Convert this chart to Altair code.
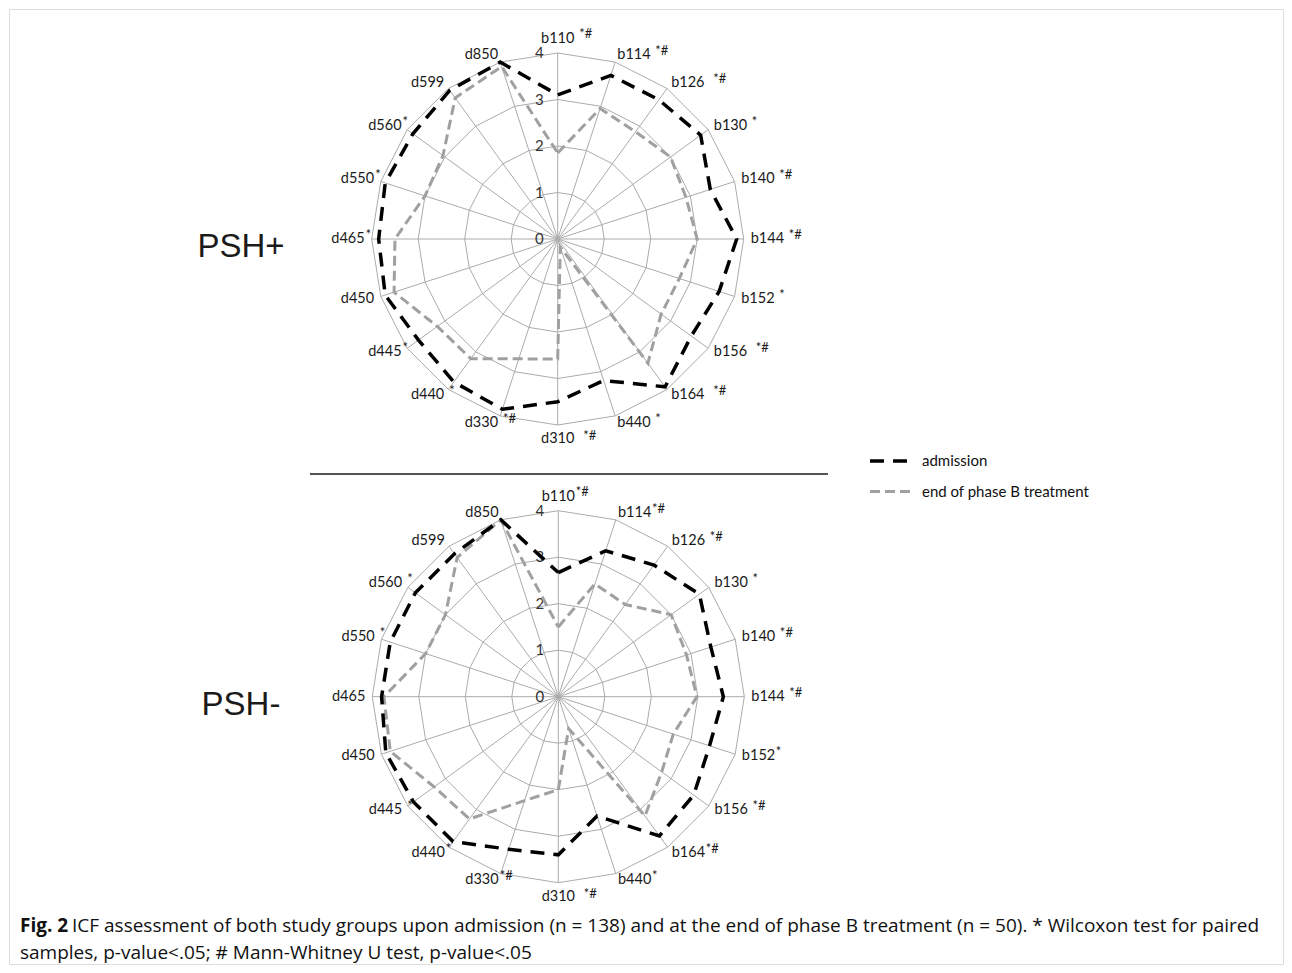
import altair as alt
import pandas as pd

# ---------------- data ----------------
categories = ["b110", "b114", "b126", "b130", "b140", "b144", "b152", "b156", "b164", "b440",
              "d310", "d330", "d440", "d445", "d450", "d465", "d550", "d560", "d599", "d850"]
panels = ["PSH+", "PSH-"]
series_names = ["admission", "end of phase B treatment"]

psh_plus_admission = [3.1, 3.7, 3.7, 3.8, 3.45, 3.85, 3.65, 3.55, 3.93, 3.2,
                      3.5, 3.85, 3.8, 3.7, 3.9, 3.85, 3.9, 3.85, 3.95, 4.0]
psh_plus_end = [1.85, 2.95, 2.85, 3.0, 2.9, 3.0, 2.75, 2.75, 3.3, 0.18,
                2.58, 2.71, 3.18, 3.2, 3.7, 3.5, 3.0, 3.05, 3.75, 3.9]
psh_minus_admission = [2.67, 3.3, 3.5, 3.75, 3.45, 3.55, 3.42, 3.6, 3.7, 2.7,
                       3.4, 3.45, 3.85, 3.85, 3.9, 3.8, 3.8, 3.8, 3.8, 4.0]
psh_minus_end = [1.5, 2.55, 2.45, 3.0, 2.9, 2.98, 2.6, 2.75, 3.17, 0.72,
                 2.0, 2.35, 3.25, 3.3, 3.8, 3.75, 3.0, 3.0, 3.7, 4.0]

sig_plus = [" *#", " *#", "  *#", " *", " *#", " *#", " *", "  *#", "  *#", " *",
            "  *#", " *#", " *", "*", "", "*", "*", "*", "", ""]
sig_minus = ["*#", "*#", " *#", " *", " *#", " *#", "*", " *#", "*#", "*",
             "  *#", "*#", "*", " *", "", "", " *", " *", "", ""]

ring_levels = [1, 2, 3, 4]
tick_labels = ["0", "1", "2", "3", "4"]

caption_bold = "Fig. 2"
caption_line1 = ("ICF assessment of both study groups upon admission (n = 138) and at the end of "
                 "phase B treatment (n = 50). * Wilcoxon test for paired")
caption_line2 = "samples, p-value<.05; # Mann-Whitney U test, p-value<.05"

# ---------------- layout ----------------
PAD = 1
W, H = 1276, 957
PW, PH = W - 2 * PAD, H - 2 * PAD
U = 46.5
N = len(categories)
LBL_FONT = "Lato"
CAP_FONT = "Open Sans"
CX = "(datum.panel === 'PSH+' ? 548.7 : 549.3)"
CY = "(datum.panel === 'PSH+' ? 230.0 : 687.7)"

# ---------------- tables ----------------
series_vals = {
    ("PSH+", "admission"): psh_plus_admission,
    ("PSH+", "end of phase B treatment"): psh_plus_end,
    ("PSH-", "admission"): psh_minus_admission,
    ("PSH-", "end of phase B treatment"): psh_minus_end,
}
rows = []
for panel in panels:
    for name in ["end of phase B treatment", "admission"]:
        vals = series_vals[(panel, name)]
        for k in range(N + 1):
            rows.append({"panel": panel, "series": name, "k": k, "idx": k % N, "value": vals[k % N]})
lines_df = pd.DataFrame(rows)

ring_df = pd.DataFrame([{"panel": p, "level": lv, "k": k, "idx": k % N, "value": lv}
                        for p in panels for lv in ring_levels for k in range(N + 1)])
spoke_df = pd.DataFrame([{"panel": p, "idx": i, "value": ring_levels[-1]}
                         for p in panels for i in range(N)])
tick_df = pd.DataFrame([{"panel": p, "level": int(t), "label": t}
                        for p in panels for t in tick_labels])
lab_rows = []
for p, sigs in [("PSH+", sig_plus), ("PSH-", sig_minus)]:
    for i, c in enumerate(categories):
        s = sigs[i]
        lab_rows.append({"panel": p, "idx": i, "cat": c, "sig": s.strip(),
                         "gap": 1 + 4 * (len(s) - len(s.lstrip()))})
lab_df = pd.DataFrame(lab_rows)


def X(f):
    return alt.X(f"{f}:Q", scale=alt.Scale(domain=[0, PW], nice=False, zero=False), axis=None)


def Y(f):
    return alt.Y(f"{f}:Q", scale=alt.Scale(domain=[0, PH], nice=False, zero=False, reverse=True),
                 axis=None)


def polar(ch):
    return (ch.transform_calculate(ang=f"2*PI*datum.idx/{N}", cx=CX, cy=CY)
              .transform_calculate(px=f"datum.cx + datum.value*{U}*sin(datum.ang)",
                                   py=f"datum.cy - datum.value*{U}*cos(datum.ang)"))


GRID = "#ababab"

rings = polar(alt.Chart(ring_df)).mark_line(stroke=GRID, strokeWidth=1).encode(
    x=X("px"), y=Y("py"), detail=["panel:N", "level:N"], order="k:Q")

spokes = polar(alt.Chart(spoke_df)).mark_rule(stroke=GRID, strokeWidth=1).encode(
    x=X("cx"), y=Y("cy"), x2=alt.X2("px:Q"), y2=alt.Y2("py:Q"))

ticks = (alt.Chart(tick_df)
         .transform_calculate(cx=CX, cy=CY)
         .transform_calculate(tx="datum.cx - 14", ty=f"datum.cy - datum.level*{U}")
         .mark_text(align="right", baseline="middle", fontSize=15, color="#333333", font=LBL_FONT)
         .encode(x=X("tx"), y=Y("ty"), text="label:N"))

leg = alt.Legend(title=None, orient="none", legendX=859, legendY=429, symbolType="stroke",
                 symbolSize=1764, symbolStrokeWidth=3.2, labelFont=LBL_FONT, labelFontSize=15,
                 labelColor="#111111", labelOffset=8, labelLimit=0, rowPadding=-10, padding=0)

series = polar(alt.Chart(lines_df)).mark_line(strokeCap="butt").encode(
    x=X("px"), y=Y("py"),
    color=alt.Color("series:N", scale=alt.Scale(domain=series_names, range=["#000000", "#a0a0a0"]),
                    legend=leg),
    strokeDash=alt.StrokeDash("series:N", scale=alt.Scale(domain=series_names, range=[[14, 9], [10, 5]]),
                              legend=leg),
    strokeWidth=alt.StrokeWidth("series:N", scale=alt.Scale(domain=series_names, range=[3.5, 3.0]),
                                legend=None),
    detail="panel:N", order="k:Q")

R_LBL = 4 * U + 7
BW = 33


def label_base(ch):
    return (ch.transform_calculate(ang=f"2*PI*datum.idx/{N}", cx=CX, cy=CY)
              .transform_calculate(s="sin(datum.ang)", c="cos(datum.ang)")
              .transform_calculate(side="datum.s > 0.01 ? 'right' : (datum.s < -0.01 ? 'left' : (datum.c > 0 ? 'top' : 'bottom'))",
                                   lx=f"datum.cx + {R_LBL}*datum.s",
                                   ly=f"datum.cy - {R_LBL}*datum.c")
              .transform_calculate(sx=f"(datum.side === 'right' ? datum.lx + {BW} : (datum.side === 'left' ? datum.lx : datum.lx + {BW}/2)) + datum.gap",
                                   sy="(datum.side === 'top' ? datum.ly - 8 : (datum.side === 'bottom' ? datum.ly + 8 : datum.ly)) - 4"))


label_layers = []
for side, align, base in [("right", "left", "middle"), ("left", "right", "middle"),
                          ("top", "center", "bottom"), ("bottom", "center", "top")]:
    label_layers.append(
        label_base(alt.Chart(lab_df)).transform_filter(f"datum.side === '{side}'")
        .mark_text(align=align, baseline=base, fontSize=14.5, font=LBL_FONT, color="#1a1a1a")
        .encode(x=X("lx"), y=Y("ly"), text="cat:N"))

sups = (label_base(alt.Chart(lab_df)).transform_filter("datum.sig !== ''")
        .mark_text(align="left", baseline="middle", fontSize=13, font=LBL_FONT, color="#1a1a1a")
        .encode(x=X("sx"), y=Y("sy"), text="sig:N"))

panel_df = pd.DataFrame({"panel": panels})
panel_labels = (alt.Chart(panel_df)
                .transform_calculate(cy=CY, tx="232")
                .transform_calculate(ty="datum.cy + 8")
                .mark_text(align="center", baseline="middle", fontSize=33, font="Liberation Sans",
                           color="#1a1a1a")
                .encode(x=X("tx"), y=Y("ty"), text="panel:N"))

separator = alt.Chart(pd.DataFrame({"a": [0]})).mark_rule(stroke="#1a1a1a", strokeWidth=1.5).encode(
    x=alt.value(301), x2=alt.value(819), y=alt.value(465))

cap_df = pd.DataFrame({"a": [0]})
cap_bold = alt.Chart(cap_df).mark_text(align="left", baseline="middle", fontSize=19, fontWeight="bold",
                                       font=CAP_FONT, color="#111111").encode(
    x=alt.value(11), y=alt.value(917), text=alt.value(caption_bold))
cap_l1 = alt.Chart(cap_df).mark_text(align="left", baseline="middle", fontSize=19,
                                     font=CAP_FONT, color="#111111").encode(
    x=alt.value(63), y=alt.value(917), text=alt.value(caption_line1))
cap_l2 = alt.Chart(cap_df).mark_text(align="left", baseline="middle", fontSize=19,
                                     font=CAP_FONT, color="#111111").encode(
    x=alt.value(11), y=alt.value(944), text=alt.value(caption_line2))

chart = alt.layer(
    rings, spokes, ticks, series, *label_layers, sups, panel_labels, separator,
    cap_bold, cap_l1, cap_l2
).properties(width=PW, height=PH, padding=PAD).configure_view(
    stroke="#1a1a1a", strokeWidth=1.5, cornerRadius=10
).configure(background="white")

chart.save("out.html", embed_options={"renderer": "svg", "actions": False})
